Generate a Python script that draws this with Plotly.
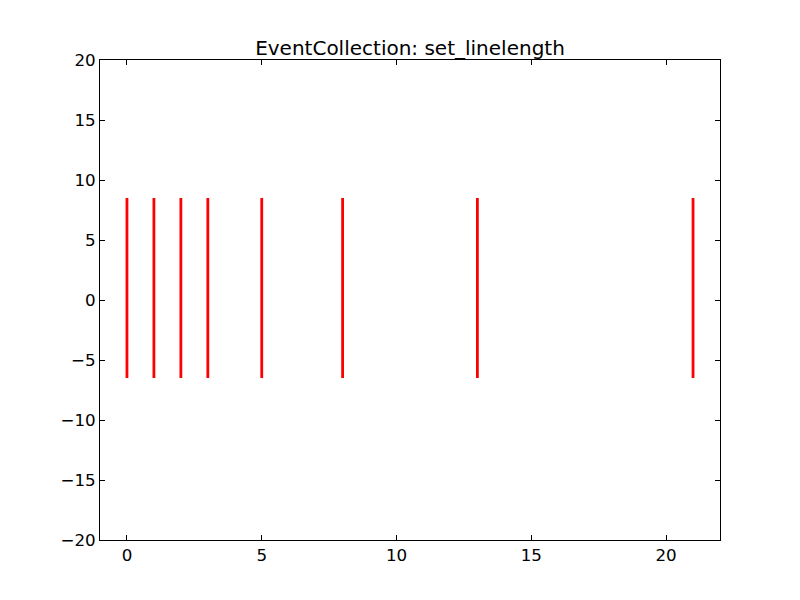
import plotly.graph_objects as go

# event positions and collection settings
positions = [0, 1, 2, 3, 5, 8, 13, 21]
line_offset = 1
line_length = 15

x_ticks = [0, 5, 10, 15, 20]
y_ticks = [-20, -15, -10, -5, 0, 5, 10, 15, 20]
y_labels = ["\u221220", "\u221215", "\u221210", "\u22125", "0", "5", "10", "15", "20"]

# build vertical segments, separated by None
xs, ys = [], []
for p in positions:
    xs += [p, p, None]
    ys += [line_offset - line_length / 2, line_offset + line_length / 2, None]

fig = go.Figure(go.Scatter(
    x=xs, y=ys, mode="lines",
    line=dict(color="#ff0000", width=2.8),
    hoverinfo="skip",
))

axis_style = dict(
    showgrid=False, zeroline=False,
    showline=True, linecolor="black", linewidth=1, mirror="ticks",
    ticks="inside", ticklen=5, tickcolor="black", tickwidth=1,
    tickfont=dict(family="DejaVu Sans", size=16.7, color="black"),
)

fig.update_xaxes(range=[-1, 22], tickvals=x_ticks, **axis_style)
fig.update_yaxes(range=[-20, 20], tickvals=y_ticks, ticktext=y_labels, **axis_style)

# page body has an 8px margin, so margins are shifted to keep the frame in place
fig.update_layout(
    width=800, height=600,
    margin=dict(l=92, r=88, t=52, b=68),
    paper_bgcolor="white", plot_bgcolor="white",
    showlegend=False,
    title=dict(
        text="EventCollection: set_linelength",
        x=0.5, xref="paper", xanchor="center",
        y=1, yref="paper", yanchor="bottom", pad=dict(b=5),
        font=dict(family="DejaVu Sans", size=20, color="black"),
    ),
)

fig.write_html("out.html")
